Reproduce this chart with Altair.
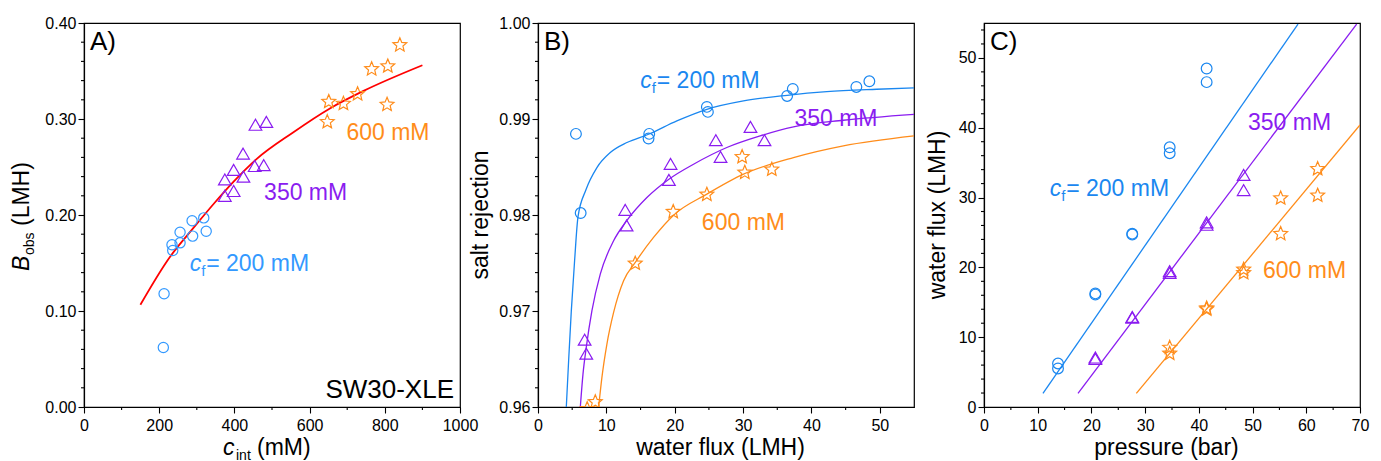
import altair as alt
import pandas as pd

FONT = "Liberation Sans"
W, H = 376, 384

BLUE_A = "#3399FF"
BLUE = "#1A87F0"
PURPLE = "#8A1CF0"
ORANGE = "#FF8C1A"
RED = "#FF0000"

STAR = ("M0,-1L0.2645,-0.364L0.951,-0.309L0.428,0.139L0.588,0.809L0,0.45"
        "L-0.588,0.809L-0.428,0.139L-0.951,-0.309L-0.2645,-0.364Z")

# ---------------- Panel A : B_obs vs c_int ----------------
a200_x = [213, 211, 234, 236, 255.5, 255.5, 287.5, 289, 318.5, 325]
a200_y = [0.118, 0.062, 0.169, 0.163, 0.182, 0.171, 0.194, 0.178, 0.197, 0.183]
a350_x = [456, 485, 423, 398, 374.5, 424, 454, 478, 398, 374.5]
a350_y = [0.294, 0.297, 0.264, 0.247, 0.237, 0.240, 0.251, 0.252, 0.225, 0.220]
a600_x = [840, 765, 808, 727.6, 651, 690, 647, 806]
a600_y = [0.377, 0.352, 0.355, 0.326, 0.318, 0.316, 0.297, 0.315]
afit_x = [150, 228, 290, 348, 396, 458, 556, 654, 742, 900]
afit_y = [0.1065, 0.156, 0.186, 0.213, 0.234, 0.258, 0.286, 0.311, 0.329, 0.356]
a_xmajor = [0, 200, 400, 600, 800, 1000]
a_xminor = [100, 300, 500, 700, 900]
a_ymajor = [0.00, 0.10, 0.20, 0.30, 0.40]
a_yminor = [0.02, 0.04, 0.06, 0.08, 0.12, 0.14, 0.16, 0.18, 0.22, 0.24, 0.26, 0.28,
            0.32, 0.34, 0.36, 0.38]

# ---------------- Panel B : salt rejection vs water flux ----------------
b200_x = [5.55, 6.24, 16.17, 16.27, 24.70, 24.85, 36.44, 37.27, 46.57, 48.47]
b200_y = [0.98845, 0.9802, 0.98796, 0.98845, 0.99126, 0.99074, 0.99240, 0.99313, 0.99334, 0.99393]
b350_x = [31.08, 26.01, 33.13, 26.70, 19.39, 19.15, 12.76, 12.96, 6.82, 7.06]
b350_y = [0.98918, 0.98779, 0.98779, 0.98605, 0.98533, 0.98366, 0.98054, 0.97891, 0.96701, 0.96555]
b600_x = [29.86, 30.25, 34.20, 24.70, 19.78, 14.22, 8.38, 7.2]
b600_y = [0.98605, 0.98442, 0.98474, 0.98213, 0.98033, 0.97495, 0.96052, 0.9598]
bfit200_x = [4.14, 4.48, 4.87, 5.35, 5.85, 7.0, 8.62, 10.57, 13.01, 16.17, 20.31, 24.70, 30.06, 36.44, 42.24, 49.54, 55.0]
bfit200_y = [0.9600, 0.96482, 0.96999, 0.9752, 0.9798, 0.9826, 0.98494, 0.98650, 0.98755, 0.98841,
             0.98980, 0.99101, 0.99188, 0.99247, 0.99285, 0.99310, 0.99324]
bfit350_x = [6.19, 6.58, 7.06, 7.89, 9.11, 11.06, 12.96, 15.93, 19.15, 22.75, 27.62, 32.49, 37.37, 44.67, 55.0]
bfit350_y = [0.9600, 0.96343, 0.96621, 0.97003, 0.97384, 0.97731, 0.97939, 0.98182, 0.98373, 0.98529,
             0.98703, 0.98824, 0.98918, 0.98987, 0.99049]
bfit600_x = [8.87, 9.35, 10.08, 11.06, 12.52, 14.23, 16.90, 19.83, 24.70, 30.06, 37.37, 44.67, 55.0]
bfit600_y = [0.9600, 0.96309, 0.96656, 0.96985, 0.97315, 0.97506, 0.97766, 0.97998, 0.98217, 0.98425,
             0.98598, 0.98720, 0.98824]
b_xmajor = [0, 10, 20, 30, 40, 50]
b_xminor = [5, 15, 25, 35, 45]
b_ymajor = [0.96, 0.97, 0.98, 0.99, 1.00]
b_yminor = [0.962, 0.964, 0.966, 0.968, 0.972, 0.974, 0.976, 0.978, 0.982, 0.984, 0.986, 0.988,
            0.992, 0.994, 0.996, 0.998]

# ---------------- Panel C : water flux vs pressure ----------------
c200_x = [13.78, 13.78, 20.73, 20.73, 27.6, 27.6, 34.57, 34.57, 41.45, 41.45]
c200_y = [6.23, 5.52, 16.27, 16.1, 24.83, 24.7, 37.2, 36.35, 48.48, 46.53]
c350_x = [20.73, 20.73, 27.6, 27.6, 34.57, 34.57, 41.45, 41.45, 48.34, 48.34]
c350_y = [7.09, 6.9, 12.9, 12.8, 19.46, 19.2, 26.45, 26.1, 33.25, 31.07]
c600_x = [34.57, 34.57, 41.45, 41.45, 48.34, 48.34, 55.23, 55.23, 62.12, 62.12]
c600_y = [8.5, 7.66, 14.13, 14.0, 19.7, 19.2, 29.9, 24.8, 34.1, 30.3]
cfit200_x = [10.98, 58.46]
cfit200_y = [1.95, 54.85]
cfit350_x = [17.5, 69.38]
cfit350_y = [1.95, 54.85]
cfit600_x = [28.36, 70.0]
cfit600_y = [1.95, 40.39]
c_xmajor = [0, 10, 20, 30, 40, 50, 60, 70]
c_xminor = [5, 15, 25, 35, 45, 55, 65]
c_ymajor = [0, 10, 20, 30, 40, 50]
c_yminor = [2, 4, 6, 8, 12, 14, 16, 18, 22, 24, 26, 28, 32, 34, 36, 38,
            42, 44, 46, 48, 52, 54]


def mk_axis(values, fmt, orient):
    return alt.Axis(
        values=values, format=fmt, title=None, grid=False, tickSize=6,
        tickWidth=1.1, tickColor="black", domainColor="black", domainWidth=1.2,
        labelColor="black", labelFont=FONT, labelFontSize=16,
        labelPadding=4 if orient == "bottom" else 2,
        labelFlush=False, labelOverlap=False, labelBound=False,
    )


class Panel:
    def __init__(self, xdom, ydom, xaxis, yaxis):
        self.xs = alt.Scale(domain=xdom, nice=False, zero=False)
        self.ys = alt.Scale(domain=ydom, nice=False, zero=False)
        self.xaxis = xaxis
        self.yaxis = yaxis
        self.layers = []

    def X(self, f="x:Q"):
        return alt.X(f, scale=self.xs, axis=self.xaxis)

    def Y(self, f="y:Q"):
        return alt.Y(f, scale=self.ys, axis=self.yaxis)

    def minor_ticks(self, xminor, yminor):
        dfx = pd.DataFrame({"v": xminor})
        self.layers.append(alt.Chart(dfx).mark_rule(color="black", strokeWidth=1.1).encode(
            x=self.X("v:Q"), y=alt.value(H), y2=alt.value(H + 3)))
        dfy = pd.DataFrame({"v": yminor})
        self.layers.append(alt.Chart(dfy).mark_rule(color="black", strokeWidth=1.1).encode(
            y=self.Y("v:Q"), x=alt.value(-3), x2=alt.value(0)))

    def points(self, xs, ys, shape, color, size):
        df = pd.DataFrame({"x": xs, "y": ys})
        self.layers.append(alt.Chart(df).mark_point(
            shape=shape, filled=False, size=size, strokeWidth=1.2,
            color=color, opacity=1, clip=True).encode(x=self.X(), y=self.Y()))

    def line(self, xs, ys, color, width=1.3):
        df = pd.DataFrame({"x": xs, "y": ys})
        self.layers.append(alt.Chart(df).mark_line(
            color=color, strokeWidth=width, interpolate="monotone",
            clip=True).encode(x=self.X(), y=self.Y()))

    def text(self, txt, color, size, x, y, pixel=False, italic=False,
             dx=0, dy=0, align="left", angle=0):
        df = pd.DataFrame({"t": [txt]})
        kw = dict(align=align, baseline="alphabetic", font=FONT, fontSize=size,
                  color=color, dx=dx, dy=dy)
        if italic:
            kw["fontStyle"] = "italic"
        if angle:
            kw["angle"] = angle
        if pixel:
            enc = dict(x=alt.value(x), y=alt.value(y))
        else:
            enc = dict(x=alt.datum(x), y=alt.datum(y))
        self.layers.append(alt.Chart(df).mark_text(**kw).encode(text="t:N", **enc))

    def cf_label(self, x, y, color):
        self.text("c", color, 23, x, y, italic=True)
        self.text("f", color, 15, x, y, dx=11.5, dy=5)
        self.text("= 200 mM", color, 23, x, y, dx=16.5)

    def chart(self):
        return alt.layer(*self.layers).properties(width=W, height=H)


# ---- A ----
A = Panel([0, 1000], [0, 0.40],
          mk_axis(a_xmajor, "d", "bottom"), mk_axis(a_ymajor, ".2f", "left"))
A.minor_ticks(a_xminor, a_yminor)
A.line(afit_x, afit_y, RED, 1.8)
A.points(a200_x, a200_y, "circle", BLUE_A, 105)
A.points(a350_x, a350_y, "triangle-up", PURPLE, 160)
A.points(a600_x, a600_y, STAR, ORANGE, 210)
A.text("A)", "black", 26, 6, 27, pixel=True)
A.text("SW30-XLE", "black", 26, 370, 375, pixel=True, align="right")
A.text("600 mM", ORANGE, 23, 698, 0.278)
A.text("350 mM", PURPLE, 23, 479, 0.2158)
A.cf_label(281, 0.1412, BLUE_A)
# axis titles with italics / subscripts
A.text("B", "black", 23, -55, 248, pixel=True, italic=True, angle=270)
A.text("obs", "black", 14, -55, 248, pixel=True, angle=270, dx=16, dy=5)
A.text("(LMH)", "black", 23, -55, 248, pixel=True, angle=270, dx=45)
A.text("c", "black", 23, 139, 432, pixel=True, italic=True)
A.text("int", "black", 14, 139, 432, pixel=True, dx=13, dy=5)
A.text("(mM)", "black", 23, 139, 432, pixel=True, dx=34)

# ---- B ----
B = Panel([0, 55], [0.96, 1.0],
          mk_axis(b_xmajor, "d", "bottom"), mk_axis(b_ymajor, ".2f", "left"))
B.minor_ticks(b_xminor, b_yminor)
B.line(bfit200_x, bfit200_y, BLUE)
B.line(bfit350_x, bfit350_y, PURPLE)
B.line(bfit600_x, bfit600_y, ORANGE)
B.points(b200_x, b200_y, "circle", BLUE, 115)
B.points(b350_x, b350_y, "triangle-up", PURPLE, 160)
B.points(b600_x, b600_y, STAR, ORANGE, 210)
B.text("B)", "black", 26, 6, 27, pixel=True)
B.cf_label(14.96, 0.9932, BLUE)
B.text("350 mM", PURPLE, 23, 37.51, 0.98925)
B.text("600 mM", ORANGE, 23, 23.97, 0.97842)
B.text("salt rejection", "black", 23, -50, H / 2, pixel=True, angle=270, align="center")
B.text("water flux (LMH)", "black", 23, 182.5, 432, pixel=True, align="center")

# ---- C ----
C = Panel([0, 70], [0, 55],
          mk_axis(c_xmajor, "d", "bottom"), mk_axis(c_ymajor, "d", "left"))
C.minor_ticks(c_xminor, c_yminor)
C.line(cfit200_x, cfit200_y, BLUE)
C.line(cfit350_x, cfit350_y, PURPLE)
C.line(cfit600_x, cfit600_y, ORANGE)
C.points(c200_x, c200_y, "circle", BLUE, 115)
C.points(c350_x, c350_y, "triangle-up", PURPLE, 160)
C.points(c600_x, c600_y, STAR, ORANGE, 210)
C.text("C)", "black", 26, 6, 27, pixel=True)
C.cf_label(12.23, 30.16, BLUE)
C.text("350 mM", PURPLE, 23, 49.15, 39.68)
C.text("600 mM", ORANGE, 23, 51.94, 18.41)
C.text("water flux (LMH)", "black", 23, -39, H / 2, pixel=True, angle=270, align="center")
C.text("pressure (bar)", "black", 23, 182.5, 432, pixel=True, align="center")

chart = alt.hconcat(
    A.chart(),
    alt.hconcat(B.chart(), C.chart(), spacing=70, bounds="flush"),
    spacing=78, bounds="flush",
).configure_view(stroke="black", strokeWidth=1.2).properties(
    padding={"left": 2, "top": 6, "right": 2, "bottom": 0}
)

chart.save("out.html", embed_options={"renderer": "svg", "actions": False})
